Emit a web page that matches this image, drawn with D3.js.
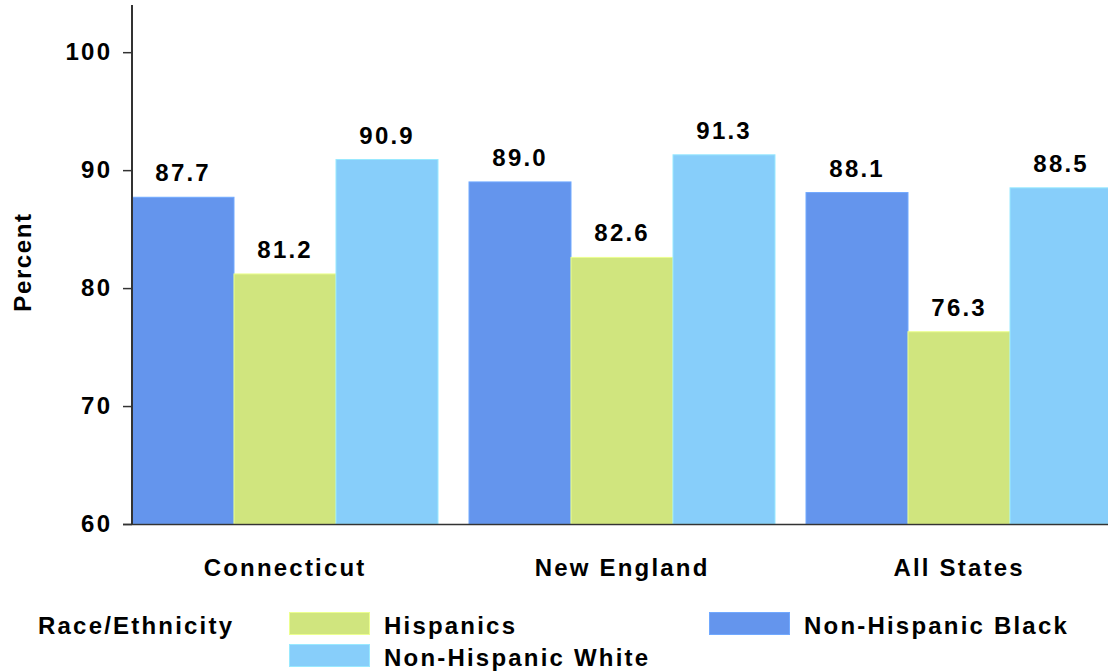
<!DOCTYPE html>
<html>
<head>
<meta charset="utf-8">
<script src="https://cdn.jsdelivr.net/npm/d3@7/dist/d3.min.js"></script>
<style>
  html, body { margin: 0; padding: 0; background: #ffffff; }
  svg { display: block; }
  text { font-family: "Liberation Sans", Arial, Helvetica, sans-serif; font-weight: bold; fill: #000; }
</style>
</head>
<body>
<svg id="chart" width="1108" height="672"></svg>
<script>
// Share of population by race/ethnicity, grouped by region
const categories = ["Connecticut", "New England", "All States"];
const seriesNames = ["Non-Hispanic Black", "Hispanics", "Non-Hispanic White"];
const blackValues = [87.7, 89.0, 88.1];
const hispanicValues = [81.2, 82.6, 76.3];
const whiteValues = [90.9, 91.3, 88.5];
const yTicks = [60, 70, 80, 90, 100];
const seriesColors = ["#6495ED", "#D0E57E", "#87CEFA"];
const legendTitle = "Race/Ethnicity";
const yTitle = "Percent";

const seriesValues = [blackValues, hispanicValues, whiteValues];

const FONT_SIZE = 24;
const SPACING = 2.2;

const svg = d3.select("#chart");

const x0 = d3.scaleBand()
  .domain(categories)
  .range([132, 1112])
  .paddingInner(0.092)
  .paddingOuter(0);

const x1 = d3.scaleBand()
  .domain(seriesNames)
  .range([0, x0.bandwidth()])
  .padding(0);

const y = d3.scaleLinear()
  .domain([60, 104])
  .range([524, 5]);

const color = d3.scaleOrdinal().domain(seriesNames).range(seriesColors);

// Bars
const rows = categories.map((c, i) => ({
  category: c,
  values: seriesNames.map((s, j) => ({ series: s, value: seriesValues[j][i] }))
}));

const groups = svg.append("g").selectAll("g")
  .data(rows)
  .join("g")
  .attr("transform", d => `translate(${x0(d.category)},0)`);

groups.selectAll("rect")
  .data(d => d.values)
  .join("rect")
  .attr("x", d => x1(d.series))
  .attr("y", d => y(d.value))
  .attr("width", x1.bandwidth())
  .attr("height", d => y(60) - y(d.value))
  .attr("fill", d => color(d.series))
  .attr("stroke", d => d3.color(color(d.series)).brighter(0.35))
  .attr("stroke-width", 1);

// Value labels
groups.selectAll("text.value")
  .data(d => d.values)
  .join("text")
  .attr("class", "value")
  .attr("x", d => x1(d.series) + x1.bandwidth() / 2 + SPACING / 2 - 1)
  .attr("y", d => y(d.value) - 16)
  .attr("text-anchor", "middle")
  .style("font-size", FONT_SIZE + "px")
  .style("letter-spacing", SPACING + "px")
  .text(d => d3.format(".1f")(d.value));

// Y axis
const yAxis = d3.axisLeft(y)
  .tickValues(yTicks)
  .tickSize(9)
  .tickPadding(22)
  .tickFormat(d3.format("d"));

const yAxisG = svg.append("g")
  .attr("transform", "translate(132,0)")
  .call(yAxis);

yAxisG.select(".domain")
  .attr("d", `M0,${y(104)}V${y(60)}`)
  .attr("stroke", "#333")
  .attr("stroke-width", 2);
yAxisG.selectAll(".tick line").attr("stroke", "#333").attr("stroke-width", 1.5);
yAxisG.selectAll(".tick text")
  .attr("x", -22 + SPACING)
  .style("font-size", FONT_SIZE + "px")
  .style("letter-spacing", SPACING + "px")
  .style("font-family", "'Liberation Sans', Arial, sans-serif")
  .style("font-weight", "bold")
  .attr("fill", "#000");

// X baseline and category labels
const xAxis = d3.axisBottom(x0).tickSize(0).tickPadding(0);
const xAxisG = svg.append("g")
  .attr("transform", `translate(0,${y(60)})`)
  .call(xAxis);
xAxisG.select(".domain")
  .attr("d", `M123,0.5H1108`)
  .attr("stroke", "#333")
  .attr("stroke-width", 1.5);
xAxisG.selectAll(".tick text")
  .attr("dy", null)
  .attr("y", 52)
  .attr("x", SPACING / 2 - 1)
  .style("font-size", FONT_SIZE + "px")
  .style("letter-spacing", SPACING + "px")
  .style("font-family", "'Liberation Sans', Arial, sans-serif")
  .style("font-weight", "bold")
  .attr("fill", "#000");

// Y title
svg.append("text")
  .attr("transform", "translate(31,262) rotate(-90)")
  .attr("text-anchor", "middle")
  .style("font-size", FONT_SIZE + "px")
  .style("letter-spacing", "1.6px")
  .text(yTitle);

// Legend
svg.append("text")
  .attr("x", 38)
  .attr("y", 634)
  .style("font-size", FONT_SIZE + "px")
  .style("letter-spacing", SPACING + "px")
  .text(legendTitle);

const legendItems = [
  { name: "Hispanics", x: 289, y: 612 },
  { name: "Non-Hispanic Black", x: 709, y: 612 },
  { name: "Non-Hispanic White", x: 289, y: 644 }
];

const legend = svg.append("g").selectAll("g")
  .data(legendItems)
  .join("g")
  .attr("transform", d => `translate(${d.x},${d.y})`);

legend.append("rect")
  .attr("x", 0.5)
  .attr("y", 0.5)
  .attr("width", 80)
  .attr("height", 22)
  .attr("fill", d => color(d.name))
  .attr("stroke", d => d3.color(color(d.name)).brighter(0.35))
  .attr("stroke-width", 1);

legend.append("text")
  .attr("x", 95)
  .attr("y", 22)
  .style("font-size", FONT_SIZE + "px")
  .style("letter-spacing", SPACING + "px")
  .text(d => d.name);
</script>
</body>
</html>
